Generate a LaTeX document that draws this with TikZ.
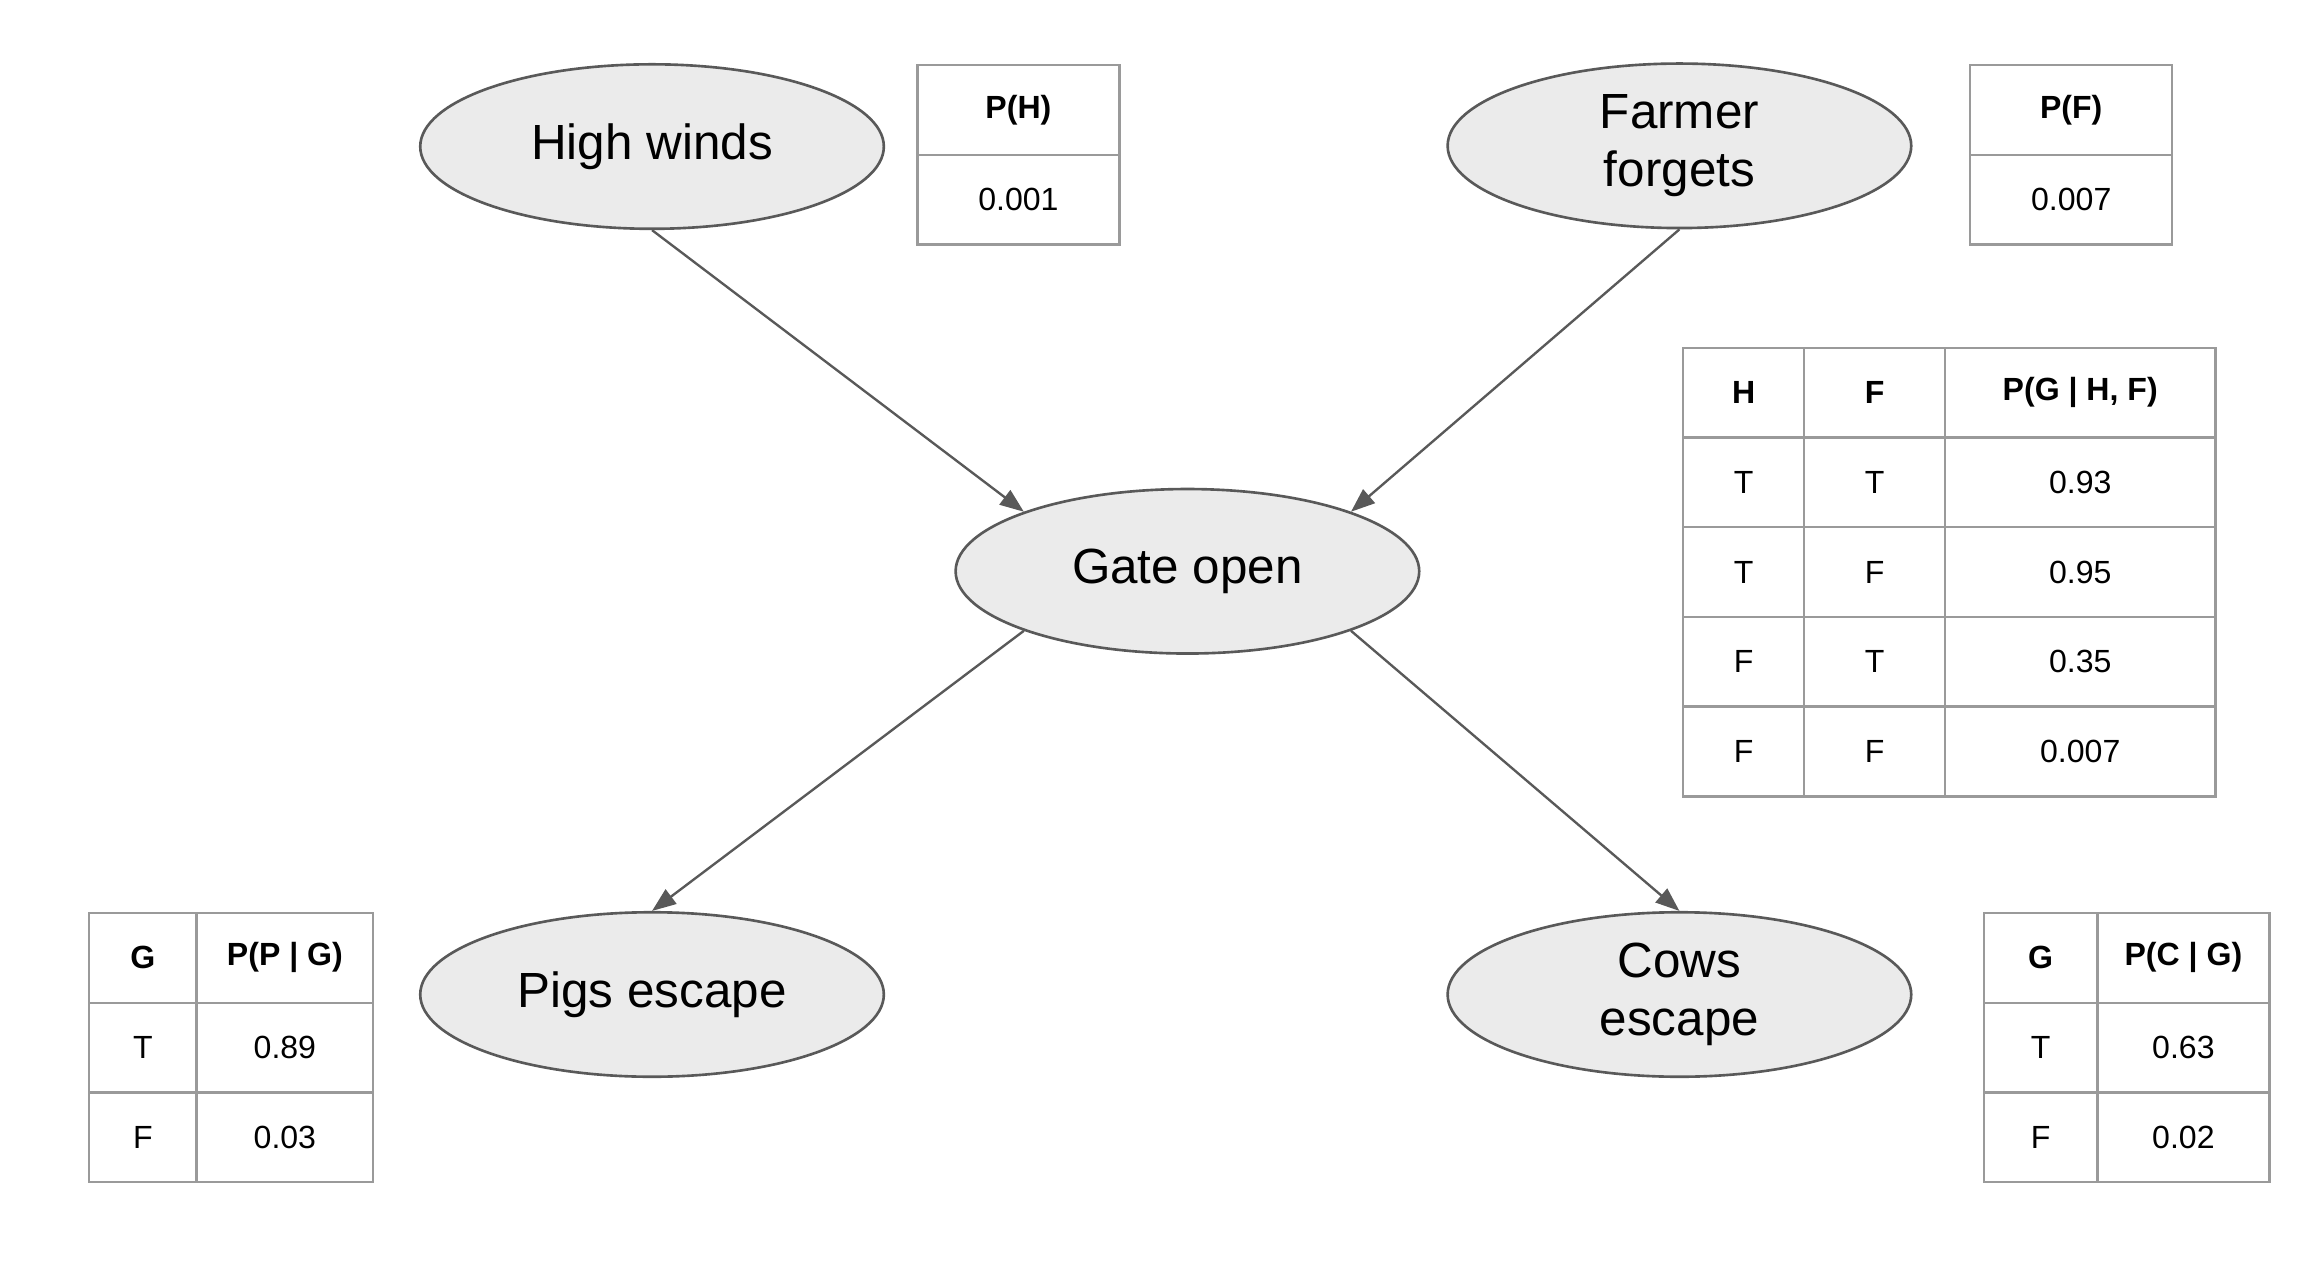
\documentclass[tikz,border=0pt]{standalone}
\usepackage{fontspec}
\setmainfont{Liberation Sans}
\usetikzlibrary{shapes.geometric, arrows.meta, matrix}
\definecolor{nodefill}{HTML}{EBEBEB}
\definecolor{nodeline}{HTML}{595959}
\definecolor{gridline}{HTML}{9A9A9A}

\begin{document}
\begin{tikzpicture}[
    var/.style={draw=nodeline, line width=0.5pt, fill=nodefill, ellipse,
        minimum width=3.1cm, minimum height=1.1cm, inner sep=0pt,
        align=center, font=\fontsize{9.4}{11}\selectfont},
    link/.style={draw=nodeline, line width=0.45pt,
        -{Triangle[length=0.16cm, width=0.12cm]}},
    cpt/.style={matrix of nodes, anchor=north west, inner sep=0pt,
        column sep=-0.45pt, row sep=-0.45pt,
        nodes={draw=gridline, line width=0.45pt, minimum height=0.6cm,
            inner sep=0pt, anchor=center, font=\fontsize{6.1}{7}\selectfont},
        row 1/.style={nodes={font=\fontsize{6.1}{7}\selectfont\bfseries}}}
]
    \useasboundingbox (0,0) rectangle (15.5,8.45);

    \node[var] (H) at (4.36,7.47) {High winds};
    \node[var] (F) at (11.23,7.475) {Farmer\\forgets};
    \node[var] (G) at (7.94,4.63) {Gate open};
    \node[var] (P) at (4.36,1.80) {Pigs escape};
    \node[var] (C) at (11.23,1.80) {Cows\\escape};

    \matrix[cpt, column 1/.style={nodes={minimum width=1.35cm}}] (tH) at (6.12,8.03) {
        P(H) \\
        0.001 \\
    };
    \matrix[cpt, column 1/.style={nodes={minimum width=1.35cm}}] (tF) at (13.16,8.03) {
        P(F) \\
        0.007 \\
    };
    \matrix[cpt, column 1/.style={nodes={minimum width=0.81cm}},
        column 2/.style={nodes={minimum width=0.94cm}},
        column 3/.style={nodes={minimum width=1.81cm}}] (tG) at (11.24,6.14) {
        H & F & P(G | H, F) \\
        T & T & 0.93 \\
        T & F & 0.95 \\
        F & T & 0.35 \\
        F & F & 0.007 \\
    };
    \matrix[cpt, column 1/.style={nodes={minimum width=0.72cm}},
        column 2/.style={nodes={minimum width=1.18cm}}] (tP) at (0.58,2.36) {
        G & P(P | G) \\
        T & 0.89 \\
        F & 0.03 \\
    };
    \matrix[cpt, column 1/.style={nodes={minimum width=0.76cm}},
        column 2/.style={nodes={minimum width=1.15cm}}] (tC) at (13.25,2.36) {
        G & P(C | G) \\
        T & 0.63 \\
        F & 0.02 \\
    };

    \draw[link] (H.south) -- (G.160);
    \draw[link] (F.south) -- (G.20);
    \draw[link] (G.200) -- (P.north);
    \draw[link] (G.340) -- (C.north);
\end{tikzpicture}
\end{document}
